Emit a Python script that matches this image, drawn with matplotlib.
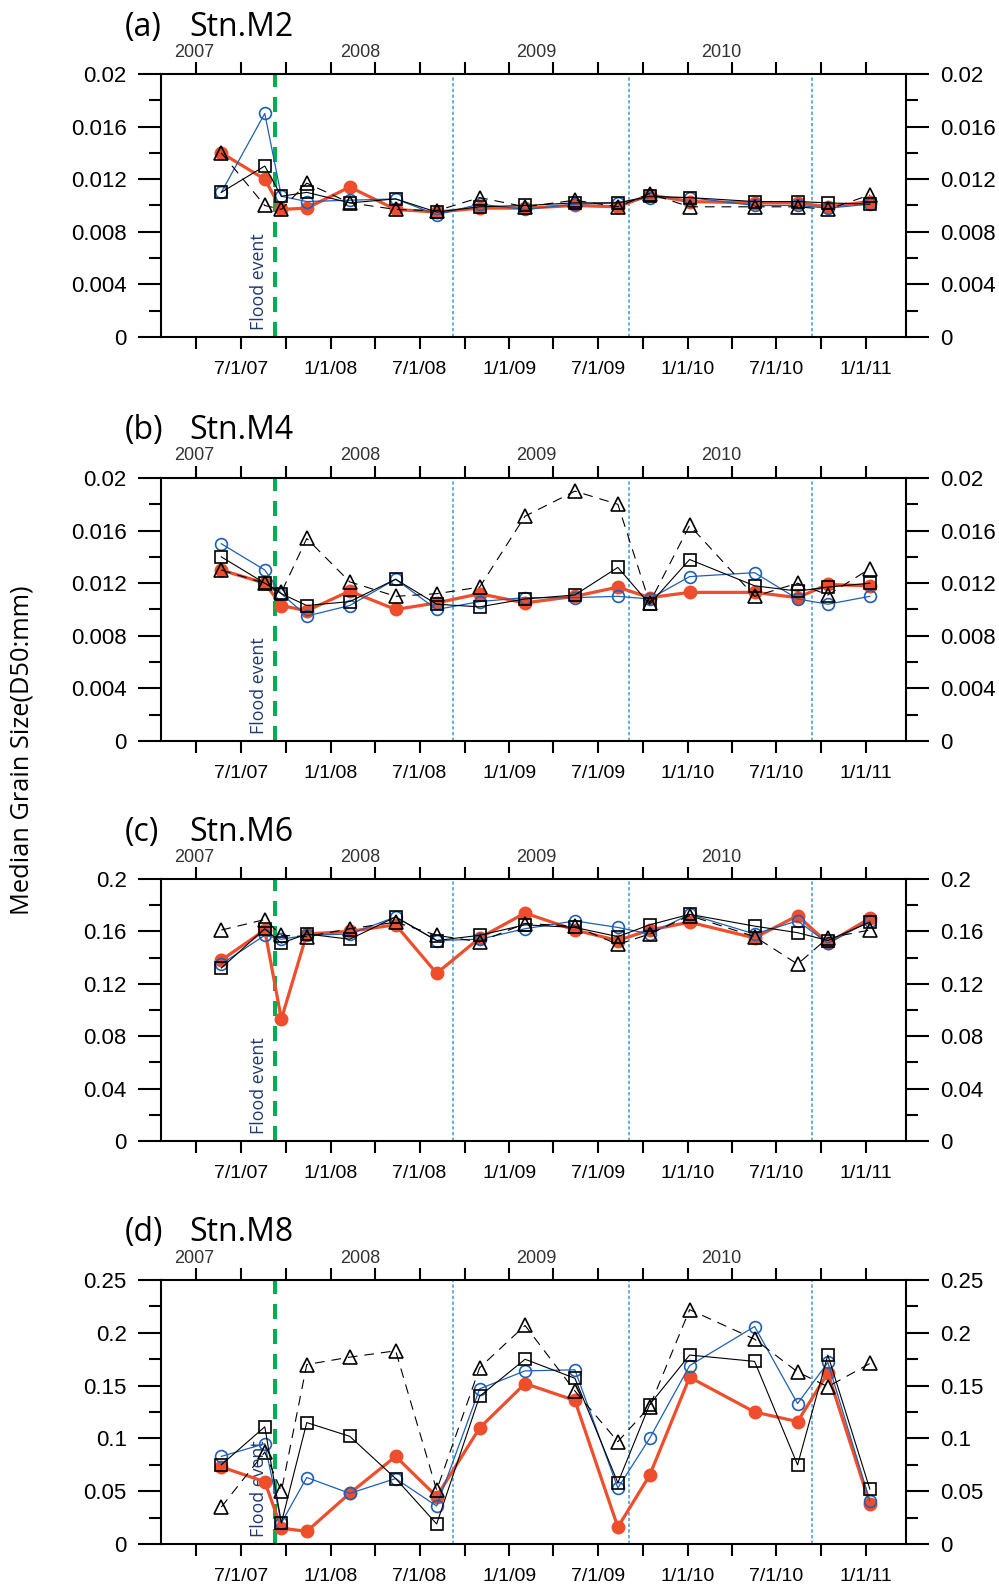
import matplotlib
matplotlib.use("Agg")
import matplotlib.pyplot as plt
import matplotlib.dates as mdates
import pandas as pd
from matplotlib.ticker import MultipleLocator, FuncFormatter
from matplotlib.transforms import blended_transform_factory

plt.rcParams['lines.scale_dashes'] = False

# sampling dates (same for every station)
dates = pd.to_datetime(['2007-05-22', '2007-08-19', '2007-09-22', '2007-11-13', '2008-02-09',
                        '2008-05-13', '2008-08-05', '2008-11-01', '2009-02-02', '2009-05-15',
                        '2009-08-11', '2009-10-15', '2010-01-05', '2010-05-18', '2010-08-14',
                        '2010-10-15', '2011-01-09'])
flood_date = pd.Timestamp('2007-09-09')
season_breaks = pd.to_datetime(['2008-09-07', '2009-09-02', '2010-09-13'])
year_labels = ['2007', '2008', '2009', '2010']
year_label_dates = pd.to_datetime(['2007-03-27', '2008-03-01', '2009-02-25', '2010-03-10'])

stations = ['(a)', '(b)', '(c)', '(d)']
station_names = ['Stn.M2', 'Stn.M4', 'Stn.M6', 'Stn.M8']
y_max = [0.02, 0.02, 0.2, 0.25]
y_step = [0.004, 0.004, 0.04, 0.05]

# series: filled red circle, open blue circle, open square, open triangle
m2_red = [0.0140, 0.0120, 0.0097, 0.0098, 0.0114, 0.0097, 0.0095, 0.0098, 0.0098, 0.0100, 0.0099, 0.0108, 0.0103, 0.0102, 0.0102, 0.0099, 0.0103]
m2_blue = [0.0110, 0.0170, 0.0107, 0.0103, 0.0104, 0.0105, 0.0093, 0.0101, 0.0097, 0.0101, 0.0102, 0.0106, 0.0106, 0.0100, 0.0100, 0.0098, 0.0101]
m2_square = [0.0110, 0.0130, 0.0107, 0.0110, 0.0102, 0.0105, 0.0095, 0.0099, 0.0100, 0.0102, 0.0102, 0.0107, 0.0106, 0.0103, 0.0103, 0.0102, 0.0101]
m2_tri = [0.0140, 0.0100, 0.0097, 0.0117, 0.0102, 0.0097, 0.0096, 0.0106, 0.0099, 0.0104, 0.0099, 0.0109, 0.0099, 0.0099, 0.0099, 0.0097, 0.0108]

m4_red = [0.0130, 0.0120, 0.0103, 0.0099, 0.0114, 0.0100, 0.0105, 0.0112, 0.0105, 0.0110, 0.0117, 0.0109, 0.0113, 0.0113, 0.0109, 0.0119, 0.0118]
m4_blue = [0.0150, 0.0130, 0.0112, 0.0095, 0.0103, 0.0123, 0.0100, 0.0106, 0.0109, 0.0109, 0.0110, 0.0108, 0.0125, 0.0128, 0.0108, 0.0104, 0.0110]
m4_square = [0.0140, 0.0120, 0.0112, 0.0103, 0.0106, 0.0123, 0.0104, 0.0102, 0.0108, 0.0111, 0.0132, 0.0104, 0.0138, 0.0118, 0.0114, 0.0117, 0.0120]
m4_tri = [0.0130, 0.0120, 0.0113, 0.0154, 0.0121, 0.0110, 0.0112, 0.0117, 0.0171, 0.0190, 0.0180, 0.0105, 0.0164, 0.0110, 0.0120, 0.0111, 0.0131]

m6_red = [0.138, 0.161, 0.093, 0.158, 0.160, 0.165, 0.128, 0.155, 0.174, 0.161, 0.153, 0.161, 0.167, 0.155, 0.172, 0.151, 0.170]
m6_blue = [0.135, 0.157, 0.154, 0.157, 0.158, 0.171, 0.153, 0.154, 0.162, 0.168, 0.163, 0.158, 0.173, 0.158, 0.168, 0.151, 0.168]
m6_square = [0.132, 0.162, 0.151, 0.158, 0.154, 0.171, 0.153, 0.157, 0.165, 0.163, 0.156, 0.165, 0.173, 0.164, 0.159, 0.153, 0.167]
m6_tri = [0.161, 0.169, 0.157, 0.156, 0.162, 0.167, 0.157, 0.152, 0.166, 0.164, 0.150, 0.158, 0.172, 0.156, 0.135, 0.155, 0.161]

m8_red = [0.073, 0.059, 0.015, 0.012, 0.048, 0.083, 0.045, 0.110, 0.152, 0.136, 0.016, 0.065, 0.158, 0.125, 0.116, 0.162, 0.038]
m8_blue = [0.083, 0.095, 0.020, 0.063, 0.048, 0.062, 0.036, 0.147, 0.164, 0.165, 0.053, 0.100, 0.169, 0.206, 0.133, 0.172, 0.041]
m8_square = [0.075, 0.111, 0.020, 0.115, 0.102, 0.062, 0.019, 0.140, 0.175, 0.157, 0.058, 0.132, 0.179, 0.173, 0.075, 0.179, 0.052]
m8_tri = [0.035, 0.087, 0.050, 0.170, 0.177, 0.183, 0.051, 0.167, 0.207, 0.145, 0.097, 0.130, 0.222, 0.194, 0.163, 0.149, 0.171]

panel_data = [(m2_red, m2_blue, m2_square, m2_tri),
              (m4_red, m4_blue, m4_square, m4_tri),
              (m6_red, m6_blue, m6_square, m6_tri),
              (m8_red, m8_blue, m8_square, m8_tri)]

RED = '#EE4E2B'
BLUE = '#1F5FB5'
GREEN = '#00B050'
LIGHTBLUE = '#3A9AD9'
TICK_FONT = 'Liberation Sans'
TEXT_FONT = 'Open Sans'

fig = plt.figure(figsize=(9.99, 15.88), dpi=100)
bottoms = [0.7878, 0.5334, 0.2815, 0.0277]
heights = [0.1656, 0.1656, 0.1650, 0.1662]


def date_label(x, pos):
    d = mdates.num2date(x)
    return f"{d.month}/{d.day}/{d:%y}"


flood_num = mdates.date2num(flood_date)
year_nums = mdates.date2num(year_label_dates)

for i in range(4):
    ax = fig.add_axes([0.1609, bottoms[i], 0.746, heights[i]])
    red, blue, square, tri = panel_data[i]

    ax.axvline(flood_date, color=GREEN, lw=2.9, linestyle=(0, (10.8, 7.2)), zorder=1)
    for d in season_breaks:
        ax.axvline(d, color=LIGHTBLUE, lw=1.1, linestyle=(0, (2.4, 1.7)), zorder=1)

    ax.plot(dates, red, color=RED, lw=2.3, marker='o', ms=9, mfc=RED, mec=RED, zorder=3)
    ax.plot(dates, blue, color=BLUE, lw=0.9, marker='o', ms=8.5, mfc='none', mec=BLUE, mew=1.2, zorder=4)
    ax.plot(dates, square, color='black', lw=0.8, marker='s', ms=9, mfc='none', mec='black', mew=1.2, zorder=5)
    ax.plot(dates, tri, color='black', lw=0.8, linestyle=(0, (7, 5)), marker='^', ms=10,
            mfc='none', mec='black', mew=1.2, zorder=6)

    ax.set_xlim(pd.Timestamp('2007-01-18'), pd.Timestamp('2011-03-24'))
    ax.set_ylim(0, y_max[i])

    ax.xaxis.set_major_locator(mdates.MonthLocator(bymonth=[1, 7]))
    ax.xaxis.set_minor_locator(mdates.MonthLocator(bymonth=[4, 10]))
    ax.xaxis.set_major_formatter(FuncFormatter(date_label))
    ax.yaxis.set_major_locator(MultipleLocator(y_step[i]))
    ax.yaxis.set_minor_locator(MultipleLocator(y_step[i] / 2))
    ax.yaxis.set_major_formatter(FuncFormatter(lambda v, pos: f"{v:g}"))

    ax.tick_params(axis='x', which='both', direction='out', length=8.6, width=1.5,
                   top=True, bottom=True, labeltop=False, pad=9)
    ax.tick_params(axis='y', which='major', direction='out', length=16.5, width=1.5,
                   left=True, right=True, labelleft=True, labelright=True, pad=8)
    ax.tick_params(axis='y', which='minor', direction='out', length=8.6, width=1.5,
                   left=True, right=True)
    for lab in ax.get_xticklabels():
        lab.set_fontfamily(TICK_FONT)
        lab.set_fontsize(14)
    for lab in ax.get_yticklabels() + ax.yaxis.get_ticklabels(which='major'):
        lab.set_fontfamily(TICK_FONT)
    ax.tick_params(axis='y', labelsize=16)
    for spine in ax.spines.values():
        spine.set_linewidth(1.5)

    trans = blended_transform_factory(ax.transData, ax.transAxes)
    for label, d in zip(year_labels, year_nums):
        ax.text(d, 1 + 22 / 263, label, transform=trans, ha='center', va='center',
                fontsize=13, color='#333333', family=TICK_FONT)

    ax.text(-0.048, 1 + 47 / 263, stations[i], transform=ax.transAxes, ha='left', va='center',
            fontsize=23, family=TEXT_FONT)
    ax.text(0.038, 1 + 47 / 263, station_names[i], transform=ax.transAxes, ha='left', va='center',
            fontsize=23, family=TEXT_FONT)

    ax.annotate('Flood event', xy=(flood_num, 0.025), xycoords=trans, xytext=(-5, 0),
                textcoords='offset points', rotation=90, ha='right', va='bottom',
                fontsize=12.8, color='#1F3A70', family=TEXT_FONT, zorder=2)

fig.text(22 / 999, 1 - 750 / 1588, 'Median Grain Size(D50:mm)', rotation=90, ha='center',
         va='center', fontsize=18.3, family=TEXT_FONT)

plt.savefig('out.png', dpi=100)
